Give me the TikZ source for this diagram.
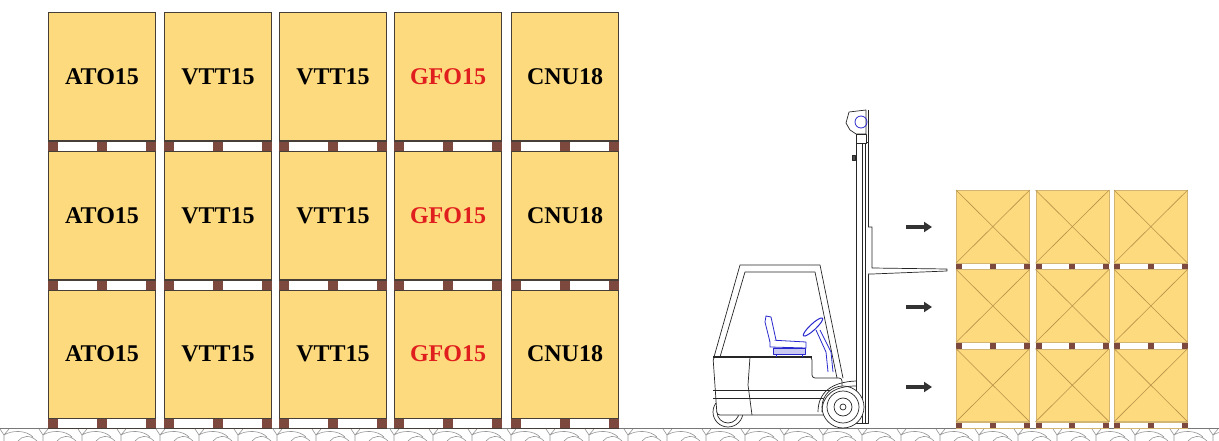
\documentclass[tikz,border=0pt]{standalone}
\usepackage{fontspec}
\setmainfont{Liberation Serif}
\usepackage{tikz}
\usetikzlibrary{arrows.meta, positioning, calc}
\definecolor{cargoyellow}{RGB}{253, 218, 125}
\definecolor{palletbrown}{RGB}{125, 72, 62}
\definecolor{boxedge}{RGB}{70, 62, 55}
\definecolor{crateedge}{RGB}{210, 180, 115}
\definecolor{crosstan}{RGB}{185, 145, 75}
\definecolor{labelred}{RGB}{225, 30, 30}
\definecolor{seatblue}{RGB}{40, 40, 205}
\definecolor{groundgray}{RGB}{150, 150, 150}

% pallet under a box: #1 box, #2 height, #3 block width, #4 edge style
\newcommand{\drawpallet}[4]{%
    \fill[white] (#1.south west) rectangle ($(#1.south east)+(0,#2)$);
    \fill[palletbrown] (#1.south west) rectangle ++(#3,#2);
    \fill[palletbrown] ($(#1.south)+(-#3/2,0)$) rectangle ++(#3,#2);
    \fill[palletbrown] (#1.south east) rectangle ++(-#3,#2);
    \draw[#4] (#1.south west) -- (#1.south east)
        ($(#1.south west)+(0,#2)$) -- ($(#1.south east)+(0,#2)$);
}

\begin{document}
\begin{tikzpicture}[
    x=1pt, y=-1pt,
    cargo/.style={draw=boxedge, line width=1.1pt, fill=cargoyellow, inner sep=0pt, minimum width=107, minimum height=128.5, anchor=north west, font=\fontsize{24}{28}\selectfont\bfseries},
    crate/.style={draw=crateedge, line width=0.7pt, fill=cargoyellow, inner sep=0pt, minimum width=73, minimum height=72.5, anchor=north west},
    crateline/.style={draw=crosstan, line width=0.6pt},
    truck/.style={draw=black!85, line width=0.7pt, line join=round},
    seat/.style={draw=seatblue, line width=0.8pt, line join=round},
    pusharrow/.style={-{Triangle[length=8pt, width=10pt]}, line width=4.5pt, black!80}
]
    \fill[white] (0,0) rectangle (1219,441);
    \useasboundingbox (0,0) rectangle (1219,441);

    % --- GROUND ---
    \draw[groundgray!80!black, line width=0.8pt] (0,428) -- (1219,428);
    \foreach \x in {0,39,...,1210} {
        \draw[groundgray, line width=0.6pt] (\x,429) -- (\x+4,435) -- (\x+9,429)
            (\x+4,435) -- (\x+4,441)
            (\x+4,435) .. controls (\x+12,430) and (\x+26,430) .. (\x+33,437)
            (\x+18,441) .. controls (\x+22,436) and (\x+30,434) .. (\x+37,441);
    }

    % --- LEFT STACK ---
    \node[cargo] (ato1) at (48,12) {ATO15};
    \node[cargo] (ato2) at (48,150.5) {ATO15};
    \node[cargo] (ato3) at (48,289) {ATO15};

    \node[cargo] (vtt1) at (164,12) {VTT15};
    \node[cargo] (vtt2) at (164,150.5) {VTT15};
    \node[cargo] (vtt3) at (164,289) {VTT15};

    \node[cargo] (vttb1) at (279,12) {VTT15};
    \node[cargo] (vttb2) at (279,150.5) {VTT15};
    \node[cargo] (vttb3) at (279,289) {VTT15};

    \node[cargo, text=labelred] (gfo1) at (394,12) {GFO15};
    \node[cargo, text=labelred] (gfo2) at (394,150.5) {GFO15};
    \node[cargo, text=labelred] (gfo3) at (394,289) {GFO15};

    \node[cargo] (cnu1) at (511,12) {CNU18};
    \node[cargo] (cnu2) at (511,150.5) {CNU18};
    \node[cargo] (cnu3) at (511,289) {CNU18};

    \foreach \b in {ato1,ato2,ato3,vtt1,vtt2,vtt3,vttb1,vttb2,vttb3,gfo1,gfo2,gfo3,cnu1,cnu2,cnu3}
        \drawpallet{\b}{10}{10}{draw=boxedge, line width=1pt};

    % --- RIGHT STACK ---
    \foreach \col/\x in {1/956, 2/1035.5, 3/1114} {
        \foreach \row/\y in {1/190, 2/269.3, 3/348.6} {
            \node[crate] (crate\col\row) at (\x,\y) {};
            \draw[crateline] (crate\col\row.north west) -- (crate\col\row.south east)
                (crate\col\row.north east) -- (crate\col\row.south west);
            \drawpallet{crate\col\row}{6.8}{6}{draw=crateedge, line width=0.5pt}
        }
    }

    % --- ARROWS ---
    \coordinate (push1) at (906,227);
    \coordinate (push1tip) at (932,227);
    \coordinate (push2) at (906,307);
    \coordinate (push2tip) at (932,307);
    \coordinate (push3) at (906,387);
    \coordinate (push3tip) at (932,387);
    \draw[pusharrow] (push1) -- (push1tip);
    \draw[pusharrow] (push2) -- (push2tip);
    \draw[pusharrow] (push3) -- (push3tip);

    % --- FORKLIFT ---
    % mast with head
    \draw[truck, fill=white] (856,142) rectangle (868,423);
    \draw[truck] (862,142) -- (862,423) (868,110) -- (868,142) (865,110) -- (865,423);
    \draw[truck, fill=white] (849,112) -- (866,110) -- (866,134) -- (856,134) -- (850,130) -- (846,123) -- cycle;
    \draw[truck, fill=white] (856,134) rectangle (866,143);
    \draw[seat] (861,122) circle (6);
    \draw[truck, fill=black!70] (852,155) rectangle (855,160);
    % carriage and fork
    \draw[truck, fill=white] (868,227) -- (872,227) -- (872,268) -- (947,269) -- (947,271) -- (872,274) -- (868,274);
    % rear wheel
    \draw[truck, fill=white] (728,412) circle (15);
    \draw[truck] (728,412) circle (11);
    % body
    \draw[truck, fill=white, rounded corners=3] (713,357) -- (812,357) -- (812,378) -- (842,378) -- (842,415) -- (717,415) -- cycle;
    \draw[truck, line width=1.4pt] (713,357) -- (812,357);
    \draw[truck] (713,390) -- (830,390) (713,398) -- (825,398);
    \draw[truck] (750,357) -- (748,385) -- (752,415);
    % overhead guard
    \draw[truck] (714,357) -- (740,265) -- (820,265) -- (843,378);
    \draw[truck] (720,357) -- (745,272) -- (815,272) -- (837,378);
    % front wheel
    \draw[truck, fill=white] (843,407) circle (21);
    \draw[truck] (843,407) circle (16) (843,407) circle (9) (843,407) circle (3);
    \draw[truck] (818,412) .. controls (818,392) and (832,382) .. (856,381);
    \draw[truck] (822,412) .. controls (822,395) and (834,386) .. (856,386);
    % seat and steering
    \draw[seat, fill=seatblue!25, line width=1pt] (773,348) rectangle (805,354);
    \draw[seat] (776,354) -- (776,357) (802,354) -- (802,357);
    \draw[seat, fill=white] (770,340) -- (806,342) -- (806,348) -- (770,347) -- cycle;
    \draw[seat, fill=white] (770,342) -- (765,322) -- (766,316) -- (771,317) -- (776,340);
    \draw[seat] (816,330) -- (826,352) -- (828,372) (820,330) -- (831,352) -- (833,372);
    \draw[seat, line width=1pt, rotate around={43:(813,327)}] (813,327) ellipse (13 and 3);

\end{tikzpicture}
\end{document}
